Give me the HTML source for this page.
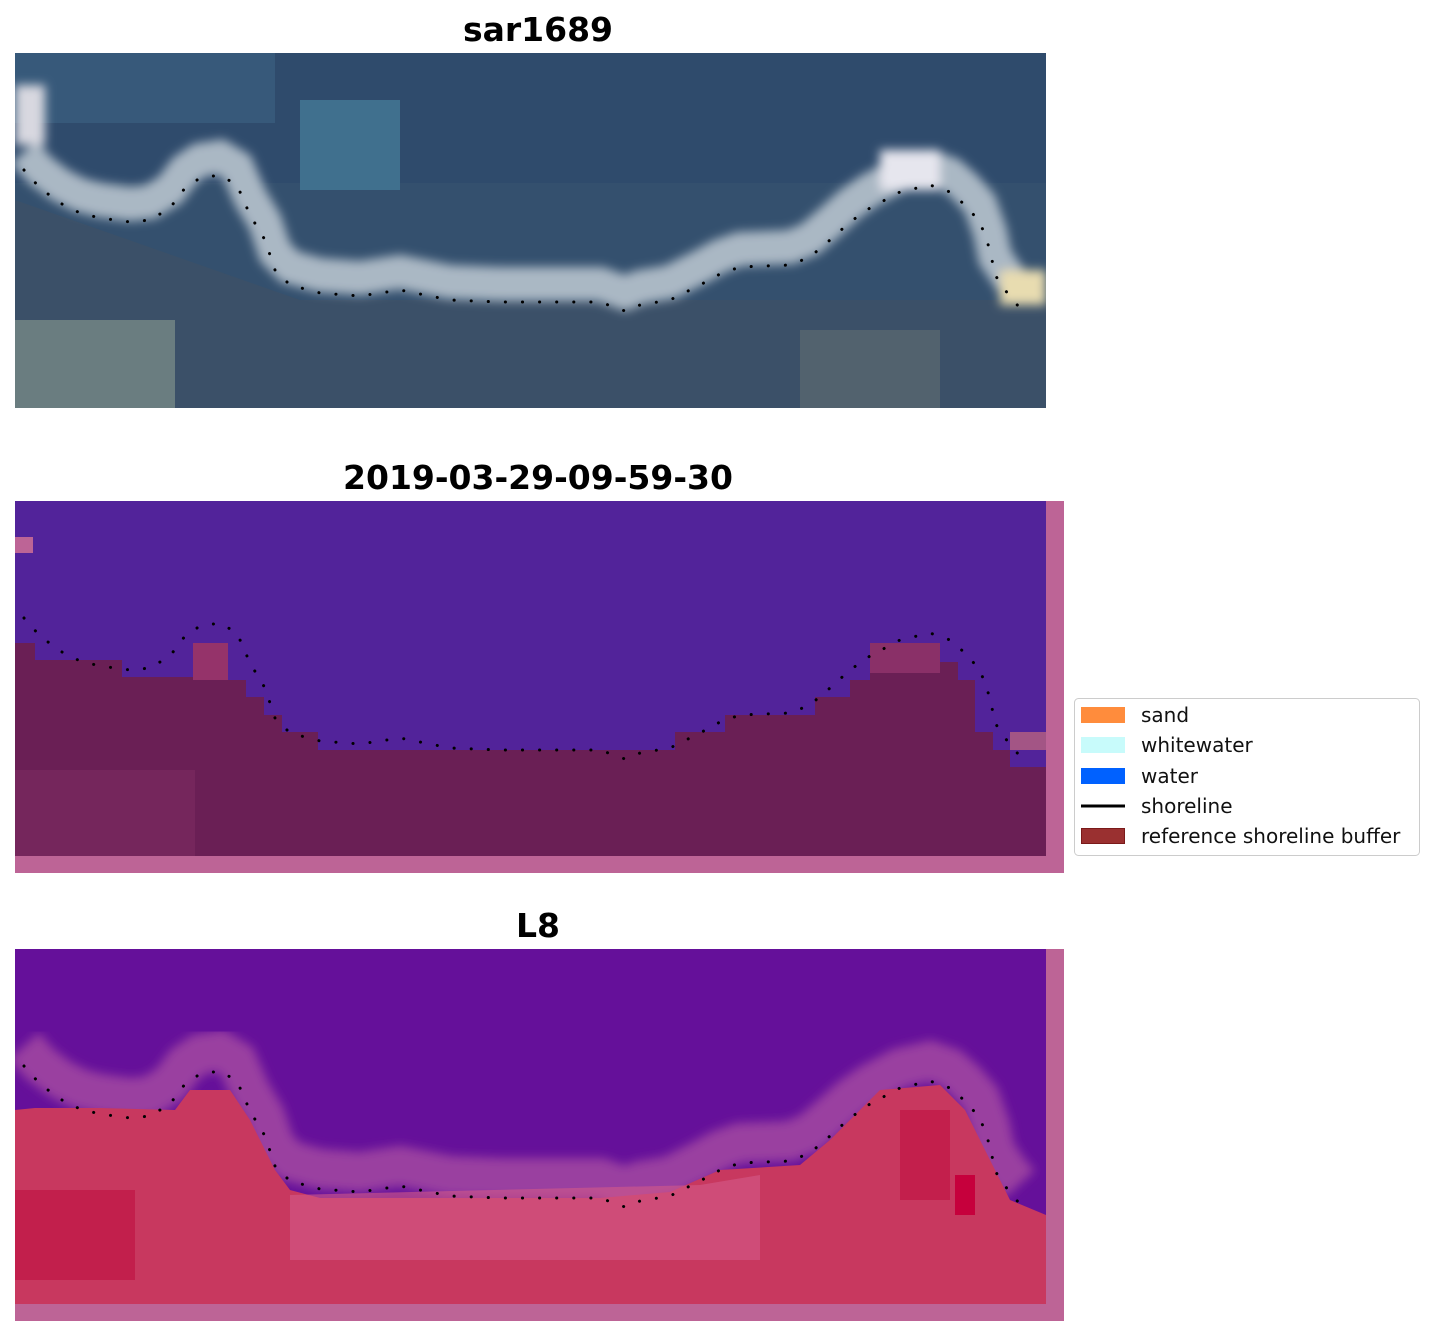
<!DOCTYPE html>
<html><head><style>
body{margin:0;background:#fff;width:1435px;height:1337px;overflow:hidden;font-family:"DejaVu Sans","Liberation Sans",sans-serif}
</style></head><body>
<svg width="1435" height="1337" xmlns="http://www.w3.org/2000/svg" font-family="DejaVu Sans, Liberation Sans, sans-serif">
<defs>
<polyline id="sh" fill="none" points="24,170 40,188 60,203 80,213 100,218 130,222 150,220 170,208 185,188 200,178 220,175 237,185 250,215 265,240 275,270 290,285 320,293 360,296 400,290 450,300 500,302 560,302 600,302 625,311 640,305 670,300 700,285 720,274 740,267 790,265 810,257 830,240 850,222 870,208 900,192 930,185 950,192 965,205 980,222 990,250 995,275 1010,297 1020,308"/>
<filter id="bl"><feGaussianBlur stdDeviation="5"/></filter>
<clipPath id="c1"><rect x="15" y="53" width="1031" height="355"/></clipPath>
<clipPath id="c3"><rect x="15" y="949" width="1031" height="355"/></clipPath>
</defs>
<text x="538" y="41" text-anchor="middle" font-size="33" font-weight="bold">sar1689</text>
<text x="538" y="489" text-anchor="middle" font-size="33" font-weight="bold">2019-03-29-09-59-30</text>
<text x="538" y="937" text-anchor="middle" font-size="33" font-weight="bold">L8</text>

<!-- panel 1 -->
<g clip-path="url(#c1)">
<rect x="15" y="53" width="1031" height="355" fill="#34506e"/>
<rect x="15" y="53" width="1031" height="130" fill="#2f4b6c"/>
<rect x="15" y="53" width="260" height="70" fill="#3a6080" opacity="0.7"/>
<rect x="300" y="100" width="100" height="90" fill="#40708e"/>
<polygon points="15,200 300,300 1046,300 1046,408 15,408" fill="#3b5068"/>
<rect x="15" y="320" width="160" height="88" fill="#6a7d80"/>
<rect x="800" y="330" width="140" height="78" fill="#52626e"/>
<g filter="url(#bl)">
<use href="#sh" stroke="#aab8c4" stroke-width="34" transform="translate(0,-18)"/>
<rect x="15" y="85" width="30" height="60" fill="#d8d8e0"/>
<rect x="880" y="150" width="60" height="40" fill="#e6e6ee"/>
<rect x="1000" y="270" width="46" height="35" fill="#e8dcb0"/>
</g>
</g>
<use href="#sh" stroke="#000" stroke-width="3" stroke-linecap="round" stroke-dasharray="0.1 17"/>

<!-- panel 2 -->
<rect x="15" y="501" width="1049" height="372" fill="#bd6496"/>
<rect x="15" y="501" width="1031" height="355" fill="#52239a"/>
<rect x="15" y="537" width="18" height="16" fill="#bd6496"/>
<polygon fill="#6a1f55" points="15,643 35,643 35,660 122,660 122,677 193,677 193,643 228,643 228,680 246,680 246,697 264,697 264,715 282,715 282,732 318,732 318,750 600,750 600,750 675,750 675,732 725,732 725,715 815,715 815,697 850,697 850,680 870,680 870,643 940,643 940,662 958,662 958,680 975,680 975,732 993,732 993,750 1010,750 1010,767 1046,767 1046,856 15,856"/>
<rect x="1010" y="732" width="36" height="18" fill="#a35585"/>
<rect x="193" y="643" width="35" height="37" fill="#95336a"/>
<rect x="870" y="643" width="70" height="30" fill="#8a3068"/>
<rect x="15" y="770" width="180" height="86" fill="#7a2a60" opacity="0.7"/>
<use href="#sh" transform="translate(0,448)" stroke="#000" stroke-width="3" stroke-linecap="round" stroke-dasharray="0.1 17"/>

<!-- panel 3 -->
<rect x="15" y="949" width="1049" height="372" fill="#bd6496"/>
<g clip-path="url(#c3)">
<rect x="15" y="949" width="1031" height="355" fill="#65109a"/>
<g transform="translate(0,896)" filter="url(#bl)">
<use href="#sh" stroke="#9a3fa0" stroke-width="40" transform="translate(0,-20)"/>
</g>
<polygon fill="#c8385f" points="15,1110 35,1108 100,1108 175,1110 190,1090 230,1090 250,1120 275,1170 290,1190 320,1198 600,1198 670,1192 720,1170 800,1165 830,1140 880,1090 940,1085 965,1110 990,1160 1010,1200 1046,1215 1046,1304 15,1304"/>
<polygon fill="#d45a88" opacity="0.6" points="290,1195 700,1185 760,1175 760,1260 290,1260"/>
<rect x="15" y="1190" width="120" height="90" fill="#bf1545" opacity="0.7"/>
<rect x="900" y="1110" width="50" height="90" fill="#c01645" opacity="0.7"/>
<rect x="955" y="1175" width="20" height="40" fill="#c6003c"/>
</g>
<use href="#sh" transform="translate(0,896)" stroke="#000" stroke-width="3" stroke-linecap="round" stroke-dasharray="0.1 17"/>

<!-- legend -->
<rect x="1074.5" y="698.5" width="345" height="157" rx="4" fill="#fff" stroke="#ccc"/>
<rect x="1081" y="707" width="44" height="16" fill="#ff8c3c"/>
<rect x="1081" y="737" width="44" height="16" fill="#c8fbfb"/>
<rect x="1081" y="768" width="44" height="16" fill="#0061ff"/>
<line x1="1081" y1="806" x2="1125" y2="806" stroke="#000" stroke-width="3"/>
<rect x="1081.5" y="828.5" width="43" height="15" fill="#9a3030" stroke="#7a1a1a"/>
<g font-size="20" fill="#111">
<text x="1141" y="722">sand</text>
<text x="1141" y="752">whitewater</text>
<text x="1141" y="783">water</text>
<text x="1141" y="813">shoreline</text>
<text x="1141" y="843">reference shoreline buffer</text>
</g>
</svg>
</body></html>
